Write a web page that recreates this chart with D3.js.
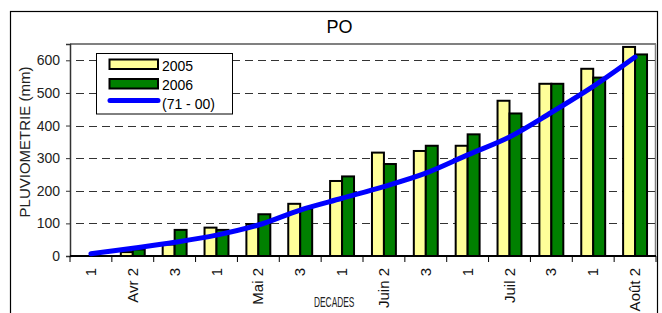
<!DOCTYPE html>
<html>
<head>
<meta charset="utf-8">
<script src="https://cdn.jsdelivr.net/npm/d3@7"></script>
<style>
  html, body { margin: 0; padding: 0; background: #fff; }
  svg { display: block; font-family: "Liberation Sans", Arial, sans-serif; }
</style>
</head>
<body>
<svg id="chart" width="662" height="313"></svg>
<script>
// ---- data ----
const tickLabels = ["1", "Avr 2", "3", "1", "Mai 2", "3", "1", "Juin 2", "3", "1", "Juil 2", "3", "1", "Août 2"];
const series = ["2005", "2006"];
const values2005 = [0, 12, 35, 87, 98, 160, 230, 317, 322, 338, 476, 528, 574, 641];
const values2006 = [0, 20, 80, 80, 128, 145, 244, 282, 338, 373, 437, 528, 547, 618];
const normal7100 = [7, 24, 42, 64, 95, 141, 177, 213, 254, 310, 365, 440, 520, 610];
const yTicks = [0, 100, 200, 300, 400, 500, 600];
const seriesColors = {"2005": "#FFFF99", "2006": "#008000"};
const lineColor = "#0000FF";

const svg = d3.select("#chart");
const plot = {left: 70, right: 656, top: 44, bottom: 256};

// outer chart border
svg.append("rect").attr("x", 10.5).attr("y", 11.5).attr("width", 647).attr("height", 320)
  .attr("fill", "#fff").attr("stroke", "#000").attr("stroke-width", 1.2);

// title
svg.append("text").attr("x", 339.5).attr("y", 33).attr("text-anchor", "middle")
  .attr("font-size", 18).attr("fill", "#000").text("PO");

const idx = d3.range(tickLabels.length);
const x0 = d3.scaleBand().domain(idx).range([plot.left, plot.right]).padding(0);
const x1 = d3.scaleBand().domain(series).range([0, x0.bandwidth()]).paddingInner(0).paddingOuter(0.75);
const y = d3.scaleLinear().domain([0, 650]).range([plot.bottom, plot.top]);

// plot area border (top/right gray)
svg.append("line").attr("x1", plot.left).attr("x2", plot.right).attr("y1", plot.top).attr("y2", plot.top)
  .attr("stroke", "#808080").attr("stroke-width", 2);
svg.append("line").attr("x1", plot.right - 0.5).attr("x2", plot.right - 0.5).attr("y1", plot.top).attr("y2", plot.bottom)
  .attr("stroke", "#808080").attr("stroke-width", 1.5);

// gridlines
svg.append("g").selectAll("line").data(yTicks.filter(d => d > 0)).join("line")
  .attr("x1", plot.left).attr("x2", plot.right - 1)
  .attr("y1", d => Math.round(y(d)) + 0.5).attr("y2", d => Math.round(y(d)) + 0.5)
  .attr("stroke", "#333").attr("stroke-width", 1).attr("stroke-dasharray", "8,5")
  .attr("stroke-dashoffset", -6);

// y axis
const yAxis = d3.axisLeft(y).tickValues(yTicks).tickSize(4).tickPadding(6).tickFormat(d3.format("d"));
const gy = svg.append("g").attr("transform", `translate(${plot.left},0)`).call(yAxis);
gy.select(".domain").attr("stroke", "#333").attr("stroke-width", 1.5);
gy.selectAll(".tick line").attr("stroke", "#333");
gy.selectAll("text").attr("font-size", 14).attr("fill", "#222")
  .attr("font-family", "'Liberation Sans', Arial, sans-serif");

// bars
const data = idx.map(i => ({i, vals: [{s: "2005", v: values2005[i]}, {s: "2006", v: values2006[i]}]}));
const groups = svg.append("g").selectAll("g").data(data).join("g")
  .attr("transform", d => `translate(${x0(d.i)},0)`);
groups.selectAll("rect").data(d => d.vals.filter(e => e.v > 0)).join("rect")
  .attr("x", e => x1(e.s)).attr("width", x1.bandwidth())
  .attr("y", e => y(e.v)).attr("height", e => y(0) - y(e.v))
  .attr("fill", e => seriesColors[e.s]).attr("stroke", "#000").attr("stroke-width", 2);

// x axis baseline + ticks
svg.append("line").attr("x1", plot.left).attr("x2", plot.right).attr("y1", plot.bottom).attr("y2", plot.bottom)
  .attr("stroke", "#000").attr("stroke-width", 2);
const boundaries = idx.map(i => x0(i)).concat([plot.right]);
svg.append("g").selectAll("line").data(boundaries).join("line")
  .attr("x1", d => d).attr("x2", d => d).attr("y1", plot.bottom).attr("y2", plot.bottom + 6)
  .attr("stroke", "#000").attr("stroke-width", 1);

// x tick labels rotated
svg.append("g").selectAll("text").data(idx).join("text")
  .attr("transform", i => `translate(${x0(i) + x0.bandwidth() / 2 + 5},268) rotate(-90)`)
  .attr("text-anchor", "end").attr("font-size", 15).attr("fill", "#111")
  .text(i => tickLabels[i]);

// normal line
const line = d3.line().x((d, i) => x0(i) + x0.bandwidth() / 2).y(d => y(d)).curve(d3.curveCatmullRom);
svg.append("path").datum(normal7100).attr("d", line)
  .attr("fill", "none").attr("stroke", lineColor).attr("stroke-width", 5).attr("stroke-linecap", "round");

// axis titles
svg.append("text").attr("transform", "translate(30,142) rotate(-90)").attr("text-anchor", "middle")
  .attr("font-size", 15).attr("fill", "#222").text("PLUVIOMETRIE (mm)");
svg.append("text").attr("transform", "translate(314,307) scale(0.54,1)").attr("font-size", 15.5)
  .attr("fill", "#222").text("DECADES");

// legend
const lg = svg.append("g");
lg.append("rect").attr("x", 96.5).attr("y", 53.5).attr("width", 136).attr("height", 60.5)
  .attr("fill", "#fff").attr("stroke", "#000").attr("stroke-width", 1);
const legendItems = [{label: "2005", color: seriesColors["2005"], yy: 59.5},
                     {label: "2006", color: seriesColors["2006"], yy: 79}];
legendItems.forEach(it => {
  lg.append("rect").attr("x", 109.5).attr("y", it.yy).attr("width", 48.5).attr("height", 9.5)
    .attr("fill", it.color).attr("stroke", "#000").attr("stroke-width", 2);
  lg.append("text").attr("x", 162).attr("y", it.yy + 11).attr("font-size", 14).attr("fill", "#000").text(it.label);
});
lg.append("line").attr("x1", 110).attr("x2", 158).attr("y1", 100.5).attr("y2", 100.5)
  .attr("stroke", lineColor).attr("stroke-width", 5).attr("stroke-linecap", "round");
lg.append("text").attr("x", 162).attr("y", 109).attr("font-size", 14).attr("fill", "#000").text("(71 - 00)");
</script>
</body>
</html>
